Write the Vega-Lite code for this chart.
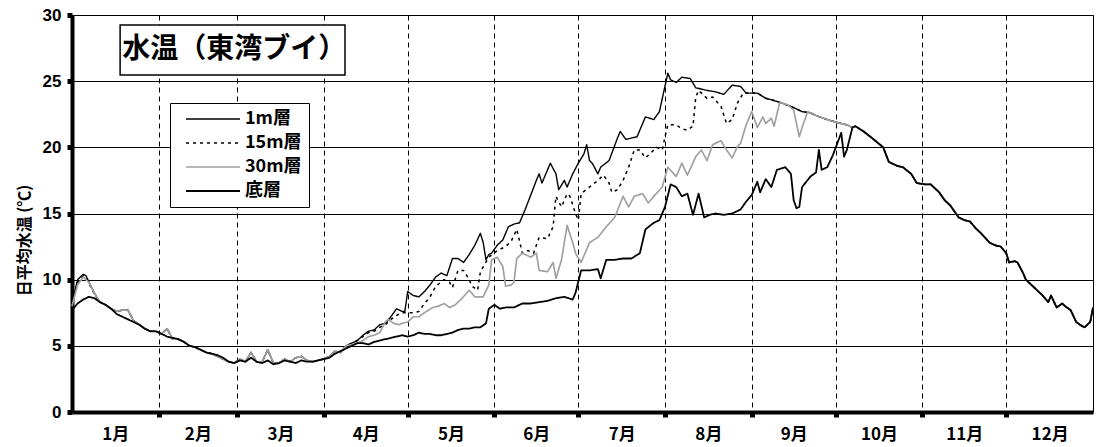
{
"$schema":"https://vega.github.io/schema/vega-lite/v6.json",
"autosize":{"type":"none"},
"padding":{"left":72,"top":15,"right":3,"bottom":35},
"width":1021,"height":397,
"background":"white",
"config":{"view":{"stroke":"black","strokeWidth":1},"font":"Liberation Sans"},
"datasets":{
"w":[
{"s":"1m層","d":0,"v":8.2},{"s":"1m層","d":2,"v":10.0},{"s":"1m層","d":4,"v":10.4},{"s":"1m層","d":5,"v":10.3},{"s":"1m層","d":7,"v":9.4},{"s":"1m層","d":9,"v":8.6},{"s":"1m層","d":10,"v":8.3},{"s":"1m層","d":12,"v":8.1},{"s":"1m層","d":14,"v":7.8},{"s":"1m層","d":16,"v":7.6},{"s":"1m層","d":18,"v":7.7},{"s":"1m層","d":20,"v":7.7},{"s":"1m層","d":22,"v":6.9},{"s":"1m層","d":24,"v":6.6},{"s":"1m層","d":26,"v":6.3},{"s":"1m層","d":28,"v":6.1},{"s":"1m層","d":30,"v":6.1},{"s":"1m層","d":32,"v":5.9},{"s":"1m層","d":34,"v":6.3},{"s":"1m層","d":36,"v":5.5},{"s":"1m層","d":38,"v":5.5},{"s":"1m層","d":40,"v":5.3},{"s":"1m層","d":42,"v":5.0},{"s":"1m層","d":44,"v":4.9},{"s":"1m層","d":46,"v":4.7},{"s":"1m層","d":48,"v":4.5},{"s":"1m層","d":50,"v":4.4},{"s":"1m層","d":52,"v":4.2},{"s":"1m層","d":54,"v":4.0},{"s":"1m層","d":56,"v":3.8},{"s":"1m層","d":58,"v":3.7},{"s":"1m層","d":60,"v":4.0},{"s":"1m層","d":62,"v":3.8},{"s":"1m層","d":64,"v":4.5},{"s":"1m層","d":66,"v":3.8},{"s":"1m層","d":68,"v":3.8},{"s":"1m層","d":70,"v":4.7},{"s":"1m層","d":72,"v":3.7},{"s":"1m層","d":74,"v":3.7},{"s":"1m層","d":76,"v":4.0},{"s":"1m層","d":78,"v":3.8},{"s":"1m層","d":80,"v":4.1},{"s":"1m層","d":82,"v":4.2},{"s":"1m層","d":84,"v":3.9},{"s":"1m層","d":86,"v":3.8},{"s":"1m層","d":88,"v":3.9},{"s":"1m層","d":90,"v":4.0},{"s":"1m層","d":92,"v":4.2},{"s":"1m層","d":94,"v":4.6},{"s":"1m層","d":96,"v":4.5},{"s":"1m層","d":98,"v":5.0},{"s":"1m層","d":100,"v":5.2},{"s":"1m層","d":102,"v":5.4},{"s":"1m層","d":104,"v":5.8},{"s":"1m層","d":106,"v":6.1},{"s":"1m層","d":108,"v":6.2},{"s":"1m層","d":110,"v":6.6},{"s":"1m層","d":112,"v":6.7},{"s":"1m層","d":114,"v":7.2},{"s":"1m層","d":116,"v":7.8},{"s":"1m層","d":118,"v":7.6},{"s":"1m層","d":119,"v":7.6},{"s":"1m層","d":120,"v":9.1},{"s":"1m層","d":122,"v":8.8},{"s":"1m層","d":124,"v":8.7},{"s":"1m層","d":126,"v":9.1},{"s":"1m層","d":128,"v":9.6},{"s":"1m層","d":130,"v":10.2},{"s":"1m層","d":132,"v":10.5},{"s":"1m層","d":134,"v":10.3},{"s":"1m層","d":136,"v":11.6},{"s":"1m層","d":138,"v":11.6},{"s":"1m層","d":140,"v":11.3},{"s":"1m層","d":142,"v":11.9},{"s":"1m層","d":144,"v":12.6},{"s":"1m層","d":146,"v":13.5},{"s":"1m層","d":147,"v":12.8},{"s":"1m層","d":148,"v":11.5},{"s":"1m層","d":149,"v":11.9},{"s":"1m層","d":150,"v":12.0},{"s":"1m層","d":152,"v":12.6},{"s":"1m層","d":154,"v":13.0},{"s":"1m層","d":156,"v":14.0},{"s":"1m層","d":158,"v":14.2},{"s":"1m層","d":160,"v":14.3},{"s":"1m層","d":162,"v":15.3},{"s":"1m層","d":164,"v":16.4},{"s":"1m層","d":166,"v":17.5},{"s":"1m層","d":167,"v":18.0},{"s":"1m層","d":168,"v":17.3},{"s":"1m層","d":170,"v":18.3},{"s":"1m層","d":171,"v":18.8},{"s":"1m層","d":173,"v":18.0},{"s":"1m層","d":174,"v":16.8},{"s":"1m層","d":176,"v":17.5},{"s":"1m層","d":177,"v":17.0},{"s":"1m層","d":179,"v":18.0},{"s":"1m層","d":181,"v":18.8},{"s":"1m層","d":183,"v":19.5},{"s":"1m層","d":184,"v":20.2},{"s":"1m層","d":185,"v":19.0},{"s":"1m層","d":186,"v":18.8},{"s":"1m層","d":188,"v":18.0},{"s":"1m層","d":189,"v":18.5},{"s":"1m層","d":192,"v":19.0},{"s":"1m層","d":195,"v":20.7},{"s":"1m層","d":196,"v":21.2},{"s":"1m層","d":198,"v":20.6},{"s":"1m層","d":202,"v":20.8},{"s":"1m層","d":205,"v":22.3},{"s":"1m層","d":208,"v":22.1},{"s":"1m層","d":210,"v":22.7},{"s":"1m層","d":213,"v":25.6},{"s":"1m層","d":214,"v":25.1},{"s":"1m層","d":216,"v":24.9},{"s":"1m層","d":218,"v":25.3},{"s":"1m層","d":221,"v":25.2},{"s":"1m層","d":223,"v":24.5},{"s":"1m層","d":227,"v":24.3},{"s":"1m層","d":230,"v":24.2},{"s":"1m層","d":233,"v":24.0},{"s":"1m層","d":236,"v":24.7},{"s":"1m層","d":239,"v":24.6},{"s":"1m層","d":241,"v":24.1},{"s":"1m層","d":245,"v":24.1},{"s":"1m層","d":248,"v":23.7},{"s":"1m層","d":250,"v":23.6},{"s":"1m層","d":253,"v":23.4},{"s":"1m層","d":257,"v":23.1},{"s":"1m層","d":261,"v":22.7},{"s":"1m層","d":264,"v":22.6},{"s":"1m層","d":266,"v":22.4},{"s":"1m層","d":270,"v":22.1},{"s":"1m層","d":273,"v":21.9},{"s":"1m層","d":277,"v":21.7},{"s":"1m層","d":279,"v":21.5},{"s":"1m層","d":280,"v":21.6},{"s":"1m層","d":283,"v":21.2},{"s":"1m層","d":286,"v":20.7},{"s":"1m層","d":290,"v":20.0},{"s":"1m層","d":292,"v":18.9},{"s":"1m層","d":295,"v":18.6},{"s":"1m層","d":297,"v":18.5},{"s":"1m層","d":300,"v":18.0},{"s":"1m層","d":302,"v":17.3},{"s":"1m層","d":305,"v":17.2},{"s":"1m層","d":307,"v":17.2},{"s":"1m層","d":310,"v":16.6},{"s":"1m層","d":312,"v":16.0},{"s":"1m層","d":314,"v":15.6},{"s":"1m層","d":317,"v":14.7},{"s":"1m層","d":319,"v":14.5},{"s":"1m層","d":321,"v":14.4},{"s":"1m層","d":323,"v":13.9},{"s":"1m層","d":325,"v":13.5},{"s":"1m層","d":328,"v":12.8},{"s":"1m層","d":330,"v":12.6},{"s":"1m層","d":332,"v":12.5},{"s":"1m層","d":334,"v":12.0},{"s":"1m層","d":335,"v":11.3},{"s":"1m層","d":337,"v":11.4},{"s":"1m層","d":338,"v":11.3},{"s":"1m層","d":340,"v":10.5},{"s":"1m層","d":341,"v":10.0},{"s":"1m層","d":343,"v":9.6},{"s":"1m層","d":345,"v":9.2},{"s":"1m層","d":347,"v":8.8},{"s":"1m層","d":349,"v":8.3},{"s":"1m層","d":350,"v":8.8},{"s":"1m層","d":352,"v":7.9},{"s":"1m層","d":354,"v":8.2},{"s":"1m層","d":355,"v":8.0},{"s":"1m層","d":357,"v":7.7},{"s":"1m層","d":359,"v":6.8},{"s":"1m層","d":361,"v":6.5},{"s":"1m層","d":362,"v":6.4},{"s":"1m層","d":364,"v":6.8},{"s":"1m層","d":365,"v":7.9},
{"s":"15m層","d":0,"v":8.2},{"s":"15m層","d":2,"v":9.8},{"s":"15m層","d":4,"v":10.3},{"s":"15m層","d":5,"v":10.2},{"s":"15m層","d":7,"v":9.3},{"s":"15m層","d":9,"v":8.6},{"s":"15m層","d":10,"v":8.3},{"s":"15m層","d":12,"v":8.1},{"s":"15m層","d":14,"v":7.8},{"s":"15m層","d":16,"v":7.6},{"s":"15m層","d":18,"v":7.7},{"s":"15m層","d":20,"v":7.7},{"s":"15m層","d":22,"v":6.9},{"s":"15m層","d":24,"v":6.6},{"s":"15m層","d":26,"v":6.3},{"s":"15m層","d":28,"v":6.1},{"s":"15m層","d":30,"v":6.1},{"s":"15m層","d":32,"v":5.9},{"s":"15m層","d":34,"v":6.3},{"s":"15m層","d":36,"v":5.5},{"s":"15m層","d":38,"v":5.5},{"s":"15m層","d":40,"v":5.3},{"s":"15m層","d":42,"v":5.0},{"s":"15m層","d":44,"v":4.9},{"s":"15m層","d":46,"v":4.7},{"s":"15m層","d":48,"v":4.5},{"s":"15m層","d":50,"v":4.4},{"s":"15m層","d":52,"v":4.2},{"s":"15m層","d":54,"v":4.0},{"s":"15m層","d":56,"v":3.8},{"s":"15m層","d":58,"v":3.7},{"s":"15m層","d":60,"v":4.0},{"s":"15m層","d":62,"v":3.8},{"s":"15m層","d":64,"v":4.5},{"s":"15m層","d":66,"v":3.8},{"s":"15m層","d":68,"v":3.8},{"s":"15m層","d":70,"v":4.7},{"s":"15m層","d":72,"v":3.7},{"s":"15m層","d":74,"v":3.7},{"s":"15m層","d":76,"v":4.0},{"s":"15m層","d":78,"v":3.8},{"s":"15m層","d":80,"v":4.1},{"s":"15m層","d":82,"v":4.2},{"s":"15m層","d":84,"v":3.9},{"s":"15m層","d":86,"v":3.8},{"s":"15m層","d":88,"v":3.9},{"s":"15m層","d":90,"v":4.0},{"s":"15m層","d":92,"v":4.2},{"s":"15m層","d":94,"v":4.6},{"s":"15m層","d":96,"v":4.5},{"s":"15m層","d":98,"v":5.0},{"s":"15m層","d":100,"v":5.2},{"s":"15m層","d":102,"v":5.4},{"s":"15m層","d":104,"v":5.7},{"s":"15m層","d":106,"v":6.0},{"s":"15m層","d":108,"v":6.1},{"s":"15m層","d":110,"v":6.4},{"s":"15m層","d":112,"v":6.6},{"s":"15m層","d":114,"v":7.0},{"s":"15m層","d":116,"v":7.3},{"s":"15m層","d":118,"v":7.5},{"s":"15m層","d":120,"v":7.5},{"s":"15m層","d":122,"v":7.5},{"s":"15m層","d":124,"v":7.6},{"s":"15m層","d":126,"v":8.2},{"s":"15m層","d":128,"v":8.7},{"s":"15m層","d":130,"v":9.5},{"s":"15m層","d":133,"v":10.0},{"s":"15m層","d":135,"v":9.8},{"s":"15m層","d":136,"v":9.4},{"s":"15m層","d":138,"v":10.7},{"s":"15m層","d":140,"v":10.7},{"s":"15m層","d":142,"v":10.0},{"s":"15m層","d":143,"v":9.5},{"s":"15m層","d":145,"v":9.2},{"s":"15m層","d":146,"v":10.6},{"s":"15m層","d":149,"v":11.7},{"s":"15m層","d":152,"v":12.2},{"s":"15m層","d":155,"v":12.5},{"s":"15m層","d":157,"v":12.9},{"s":"15m層","d":159,"v":13.8},{"s":"15m層","d":161,"v":12.0},{"s":"15m層","d":163,"v":12.2},{"s":"15m層","d":165,"v":12.0},{"s":"15m層","d":167,"v":13.2},{"s":"15m層","d":170,"v":13.1},{"s":"15m層","d":172,"v":14.0},{"s":"15m層","d":173,"v":16.3},{"s":"15m層","d":175,"v":15.5},{"s":"15m層","d":177,"v":16.5},{"s":"15m層","d":178,"v":16.3},{"s":"15m層","d":180,"v":15.0},{"s":"15m層","d":181,"v":14.5},{"s":"15m層","d":182,"v":16.5},{"s":"15m層","d":185,"v":17.0},{"s":"15m層","d":188,"v":17.5},{"s":"15m層","d":190,"v":17.9},{"s":"15m層","d":192,"v":17.3},{"s":"15m層","d":193,"v":16.6},{"s":"15m層","d":195,"v":16.8},{"s":"15m層","d":197,"v":17.5},{"s":"15m層","d":199,"v":18.5},{"s":"15m層","d":201,"v":19.8},{"s":"15m層","d":203,"v":19.8},{"s":"15m層","d":205,"v":19.2},{"s":"15m層","d":207,"v":19.6},{"s":"15m層","d":209,"v":20.0},{"s":"15m層","d":211,"v":19.8},{"s":"15m層","d":212,"v":20.8},{"s":"15m層","d":213,"v":21.7},{"s":"15m層","d":216,"v":21.7},{"s":"15m層","d":218,"v":21.4},{"s":"15m層","d":220,"v":21.3},{"s":"15m層","d":222,"v":21.6},{"s":"15m層","d":223,"v":23.8},{"s":"15m層","d":224,"v":24.3},{"s":"15m層","d":227,"v":23.7},{"s":"15m層","d":229,"v":23.8},{"s":"15m層","d":232,"v":23.1},{"s":"15m層","d":234,"v":21.8},{"s":"15m層","d":236,"v":22.1},{"s":"15m層","d":238,"v":23.4},{"s":"15m層","d":240,"v":24.1},{"s":"15m層","d":241,"v":24.1},{"s":"15m層","d":245,"v":24.1},{"s":"15m層","d":248,"v":23.7},{"s":"15m層","d":250,"v":23.6},{"s":"15m層","d":253,"v":23.4},{"s":"15m層","d":257,"v":23.1},{"s":"15m層","d":261,"v":22.7},{"s":"15m層","d":264,"v":22.6},{"s":"15m層","d":266,"v":22.4},{"s":"15m層","d":270,"v":22.1},{"s":"15m層","d":273,"v":21.9},{"s":"15m層","d":277,"v":21.7},{"s":"15m層","d":279,"v":21.5},{"s":"15m層","d":280,"v":21.6},{"s":"15m層","d":283,"v":21.2},{"s":"15m層","d":286,"v":20.7},{"s":"15m層","d":290,"v":20.0},{"s":"15m層","d":292,"v":18.9},{"s":"15m層","d":295,"v":18.6},{"s":"15m層","d":297,"v":18.5},{"s":"15m層","d":300,"v":18.0},{"s":"15m層","d":302,"v":17.3},{"s":"15m層","d":305,"v":17.2},{"s":"15m層","d":307,"v":17.2},{"s":"15m層","d":310,"v":16.6},{"s":"15m層","d":312,"v":16.0},{"s":"15m層","d":314,"v":15.6},{"s":"15m層","d":317,"v":14.7},{"s":"15m層","d":319,"v":14.5},{"s":"15m層","d":321,"v":14.4},{"s":"15m層","d":323,"v":13.9},{"s":"15m層","d":325,"v":13.5},{"s":"15m層","d":328,"v":12.8},{"s":"15m層","d":330,"v":12.6},{"s":"15m層","d":332,"v":12.5},{"s":"15m層","d":334,"v":12.0},{"s":"15m層","d":335,"v":11.3},{"s":"15m層","d":337,"v":11.4},{"s":"15m層","d":338,"v":11.3},{"s":"15m層","d":340,"v":10.5},{"s":"15m層","d":341,"v":10.0},{"s":"15m層","d":343,"v":9.6},{"s":"15m層","d":345,"v":9.2},{"s":"15m層","d":347,"v":8.8},{"s":"15m層","d":349,"v":8.3},{"s":"15m層","d":350,"v":8.8},{"s":"15m層","d":352,"v":7.9},{"s":"15m層","d":354,"v":8.2},{"s":"15m層","d":355,"v":8.0},{"s":"15m層","d":357,"v":7.7},{"s":"15m層","d":359,"v":6.8},{"s":"15m層","d":361,"v":6.5},{"s":"15m層","d":362,"v":6.4},{"s":"15m層","d":364,"v":6.8},{"s":"15m層","d":365,"v":7.9},
{"s":"30m層","d":0,"v":8.0},{"s":"30m層","d":2,"v":9.6},{"s":"30m層","d":4,"v":10.2},{"s":"30m層","d":6,"v":9.8},{"s":"30m層","d":8,"v":9.0},{"s":"30m層","d":10,"v":8.3},{"s":"30m層","d":12,"v":8.1},{"s":"30m層","d":14,"v":7.8},{"s":"30m層","d":16,"v":7.6},{"s":"30m層","d":18,"v":7.7},{"s":"30m層","d":20,"v":7.7},{"s":"30m層","d":22,"v":6.9},{"s":"30m層","d":24,"v":6.6},{"s":"30m層","d":26,"v":6.3},{"s":"30m層","d":28,"v":6.1},{"s":"30m層","d":30,"v":6.1},{"s":"30m層","d":32,"v":5.9},{"s":"30m層","d":34,"v":6.3},{"s":"30m層","d":36,"v":5.5},{"s":"30m層","d":38,"v":5.5},{"s":"30m層","d":40,"v":5.3},{"s":"30m層","d":42,"v":5.0},{"s":"30m層","d":44,"v":4.9},{"s":"30m層","d":46,"v":4.7},{"s":"30m層","d":48,"v":4.5},{"s":"30m層","d":50,"v":4.4},{"s":"30m層","d":52,"v":4.2},{"s":"30m層","d":54,"v":4.0},{"s":"30m層","d":56,"v":3.8},{"s":"30m層","d":58,"v":3.7},{"s":"30m層","d":60,"v":4.0},{"s":"30m層","d":62,"v":3.8},{"s":"30m層","d":64,"v":4.5},{"s":"30m層","d":66,"v":3.8},{"s":"30m層","d":68,"v":3.8},{"s":"30m層","d":70,"v":4.7},{"s":"30m層","d":72,"v":3.7},{"s":"30m層","d":74,"v":3.7},{"s":"30m層","d":76,"v":4.0},{"s":"30m層","d":78,"v":3.8},{"s":"30m層","d":80,"v":4.1},{"s":"30m層","d":82,"v":4.2},{"s":"30m層","d":84,"v":3.9},{"s":"30m層","d":86,"v":3.8},{"s":"30m層","d":88,"v":3.9},{"s":"30m層","d":90,"v":4.0},{"s":"30m層","d":92,"v":4.2},{"s":"30m層","d":94,"v":4.6},{"s":"30m層","d":96,"v":4.5},{"s":"30m層","d":98,"v":5.0},{"s":"30m層","d":100,"v":5.1},{"s":"30m層","d":102,"v":5.2},{"s":"30m層","d":104,"v":5.4},{"s":"30m層","d":106,"v":5.7},{"s":"30m層","d":108,"v":5.8},{"s":"30m層","d":110,"v":6.0},{"s":"30m層","d":112,"v":6.8},{"s":"30m層","d":113,"v":7.0},{"s":"30m層","d":115,"v":6.7},{"s":"30m層","d":117,"v":6.6},{"s":"30m層","d":118,"v":6.7},{"s":"30m層","d":120,"v":6.8},{"s":"30m層","d":122,"v":7.2},{"s":"30m層","d":124,"v":7.2},{"s":"30m層","d":126,"v":7.5},{"s":"30m層","d":129,"v":7.9},{"s":"30m層","d":131,"v":8.0},{"s":"30m層","d":133,"v":8.2},{"s":"30m層","d":135,"v":7.9},{"s":"30m層","d":137,"v":8.1},{"s":"30m層","d":139,"v":8.5},{"s":"30m層","d":142,"v":9.2},{"s":"30m層","d":144,"v":8.7},{"s":"30m層","d":147,"v":8.7},{"s":"30m層","d":149,"v":9.6},{"s":"30m層","d":150,"v":11.5},{"s":"30m層","d":152,"v":11.7},{"s":"30m層","d":154,"v":11.0},{"s":"30m層","d":155,"v":9.5},{"s":"30m層","d":157,"v":9.6},{"s":"30m層","d":158,"v":9.8},{"s":"30m層","d":159,"v":11.6},{"s":"30m層","d":161,"v":12.0},{"s":"30m層","d":164,"v":11.7},{"s":"30m層","d":166,"v":12.0},{"s":"30m層","d":167,"v":10.7},{"s":"30m層","d":170,"v":10.6},{"s":"30m層","d":172,"v":11.3},{"s":"30m層","d":173,"v":10.1},{"s":"30m層","d":175,"v":11.5},{"s":"30m層","d":177,"v":14.1},{"s":"30m層","d":179,"v":12.8},{"s":"30m層","d":180,"v":12.0},{"s":"30m層","d":182,"v":11.3},{"s":"30m層","d":185,"v":12.8},{"s":"30m層","d":188,"v":13.2},{"s":"30m層","d":191,"v":14.0},{"s":"30m層","d":194,"v":14.7},{"s":"30m層","d":197,"v":16.3},{"s":"30m層","d":199,"v":15.5},{"s":"30m層","d":201,"v":16.3},{"s":"30m層","d":204,"v":16.5},{"s":"30m層","d":206,"v":15.8},{"s":"30m層","d":208,"v":16.3},{"s":"30m層","d":211,"v":17.0},{"s":"30m層","d":213,"v":18.5},{"s":"30m層","d":216,"v":17.8},{"s":"30m層","d":218,"v":18.8},{"s":"30m層","d":220,"v":17.9},{"s":"30m層","d":223,"v":19.3},{"s":"30m層","d":225,"v":19.8},{"s":"30m層","d":227,"v":19.0},{"s":"30m層","d":229,"v":20.2},{"s":"30m層","d":232,"v":20.5},{"s":"30m層","d":234,"v":19.8},{"s":"30m層","d":236,"v":19.2},{"s":"30m層","d":238,"v":20.1},{"s":"30m層","d":239,"v":20.3},{"s":"30m層","d":241,"v":21.7},{"s":"30m層","d":243,"v":22.7},{"s":"30m層","d":245,"v":21.5},{"s":"30m層","d":247,"v":22.3},{"s":"30m層","d":248,"v":21.8},{"s":"30m層","d":250,"v":22.2},{"s":"30m層","d":251,"v":21.6},{"s":"30m層","d":253,"v":23.4},{"s":"30m層","d":256,"v":23.2},{"s":"30m層","d":258,"v":22.8},{"s":"30m層","d":260,"v":20.8},{"s":"30m層","d":261,"v":21.5},{"s":"30m層","d":263,"v":22.7},{"s":"30m層","d":266,"v":22.4},{"s":"30m層","d":270,"v":22.1},{"s":"30m層","d":273,"v":21.9},{"s":"30m層","d":277,"v":21.7},{"s":"30m層","d":279,"v":21.5},{"s":"30m層","d":280,"v":21.6},{"s":"30m層","d":283,"v":21.2},{"s":"30m層","d":286,"v":20.7},{"s":"30m層","d":290,"v":20.0},{"s":"30m層","d":292,"v":18.9},{"s":"30m層","d":295,"v":18.6},{"s":"30m層","d":297,"v":18.5},{"s":"30m層","d":300,"v":18.0},{"s":"30m層","d":302,"v":17.3},{"s":"30m層","d":305,"v":17.2},{"s":"30m層","d":307,"v":17.2},{"s":"30m層","d":310,"v":16.6},{"s":"30m層","d":312,"v":16.0},{"s":"30m層","d":314,"v":15.6},{"s":"30m層","d":317,"v":14.7},{"s":"30m層","d":319,"v":14.5},{"s":"30m層","d":321,"v":14.4},{"s":"30m層","d":323,"v":13.9},{"s":"30m層","d":325,"v":13.5},{"s":"30m層","d":328,"v":12.8},{"s":"30m層","d":330,"v":12.6},{"s":"30m層","d":332,"v":12.5},{"s":"30m層","d":334,"v":12.0},{"s":"30m層","d":335,"v":11.3},{"s":"30m層","d":337,"v":11.4},{"s":"30m層","d":338,"v":11.3},{"s":"30m層","d":340,"v":10.5},{"s":"30m層","d":341,"v":10.0},{"s":"30m層","d":343,"v":9.6},{"s":"30m層","d":345,"v":9.2},{"s":"30m層","d":347,"v":8.8},{"s":"30m層","d":349,"v":8.3},{"s":"30m層","d":350,"v":8.8},{"s":"30m層","d":352,"v":7.9},{"s":"30m層","d":354,"v":8.2},{"s":"30m層","d":355,"v":8.0},{"s":"30m層","d":357,"v":7.7},{"s":"30m層","d":359,"v":6.8},{"s":"30m層","d":361,"v":6.5},{"s":"30m層","d":362,"v":6.4},{"s":"30m層","d":364,"v":6.8},{"s":"30m層","d":365,"v":7.9},
{"s":"底層","d":0,"v":7.7},{"s":"底層","d":2,"v":8.2},{"s":"底層","d":4,"v":8.5},{"s":"底層","d":6,"v":8.7},{"s":"底層","d":8,"v":8.6},{"s":"底層","d":10,"v":8.3},{"s":"底層","d":12,"v":8.1},{"s":"底層","d":14,"v":7.8},{"s":"底層","d":16,"v":7.4},{"s":"底層","d":18,"v":7.2},{"s":"底層","d":20,"v":7.0},{"s":"底層","d":22,"v":6.8},{"s":"底層","d":24,"v":6.6},{"s":"底層","d":26,"v":6.3},{"s":"底層","d":28,"v":6.1},{"s":"底層","d":30,"v":6.1},{"s":"底層","d":32,"v":5.9},{"s":"底層","d":34,"v":5.7},{"s":"底層","d":36,"v":5.6},{"s":"底層","d":38,"v":5.5},{"s":"底層","d":40,"v":5.3},{"s":"底層","d":42,"v":5.0},{"s":"底層","d":44,"v":4.9},{"s":"底層","d":46,"v":4.7},{"s":"底層","d":48,"v":4.5},{"s":"底層","d":50,"v":4.4},{"s":"底層","d":52,"v":4.3},{"s":"底層","d":54,"v":4.1},{"s":"底層","d":56,"v":3.8},{"s":"底層","d":58,"v":3.7},{"s":"底層","d":60,"v":3.9},{"s":"底層","d":62,"v":3.8},{"s":"底層","d":64,"v":4.1},{"s":"底層","d":66,"v":3.8},{"s":"底層","d":68,"v":3.7},{"s":"底層","d":70,"v":3.9},{"s":"底層","d":72,"v":3.6},{"s":"底層","d":74,"v":3.7},{"s":"底層","d":76,"v":3.9},{"s":"底層","d":78,"v":3.8},{"s":"底層","d":80,"v":3.7},{"s":"底層","d":82,"v":3.9},{"s":"底層","d":84,"v":3.8},{"s":"底層","d":86,"v":3.8},{"s":"底層","d":88,"v":3.9},{"s":"底層","d":90,"v":4.0},{"s":"底層","d":92,"v":4.1},{"s":"底層","d":94,"v":4.4},{"s":"底層","d":96,"v":4.6},{"s":"底層","d":98,"v":4.8},{"s":"底層","d":100,"v":5.0},{"s":"底層","d":102,"v":5.2},{"s":"底層","d":104,"v":5.2},{"s":"底層","d":106,"v":5.1},{"s":"底層","d":108,"v":5.3},{"s":"底層","d":110,"v":5.4},{"s":"底層","d":112,"v":5.5},{"s":"底層","d":114,"v":5.6},{"s":"底層","d":116,"v":5.7},{"s":"底層","d":118,"v":5.8},{"s":"底層","d":120,"v":5.7},{"s":"底層","d":122,"v":5.8},{"s":"底層","d":124,"v":6.0},{"s":"底層","d":126,"v":5.9},{"s":"底層","d":128,"v":5.9},{"s":"底層","d":130,"v":5.8},{"s":"底層","d":132,"v":5.8},{"s":"底層","d":134,"v":5.9},{"s":"底層","d":136,"v":6.0},{"s":"底層","d":138,"v":6.2},{"s":"底層","d":140,"v":6.3},{"s":"底層","d":142,"v":6.3},{"s":"底層","d":144,"v":6.4},{"s":"底層","d":146,"v":6.4},{"s":"底層","d":148,"v":6.7},{"s":"底層","d":149,"v":7.8},{"s":"底層","d":151,"v":8.1},{"s":"底層","d":153,"v":7.8},{"s":"底層","d":155,"v":7.9},{"s":"底層","d":158,"v":7.9},{"s":"底層","d":161,"v":8.2},{"s":"底層","d":164,"v":8.2},{"s":"底層","d":167,"v":8.3},{"s":"底層","d":170,"v":8.4},{"s":"底層","d":173,"v":8.6},{"s":"底層","d":176,"v":8.7},{"s":"底層","d":179,"v":8.5},{"s":"底層","d":180,"v":9.0},{"s":"底層","d":182,"v":10.7},{"s":"底層","d":185,"v":10.7},{"s":"底層","d":188,"v":10.8},{"s":"底層","d":189,"v":10.1},{"s":"底層","d":191,"v":11.5},{"s":"底層","d":194,"v":11.5},{"s":"底層","d":197,"v":11.6},{"s":"底層","d":200,"v":11.6},{"s":"底層","d":203,"v":12.0},{"s":"底層","d":205,"v":13.8},{"s":"底層","d":208,"v":14.3},{"s":"底層","d":210,"v":14.5},{"s":"底層","d":212,"v":15.5},{"s":"底層","d":214,"v":17.2},{"s":"底層","d":216,"v":17.0},{"s":"底層","d":218,"v":16.3},{"s":"底層","d":220,"v":16.5},{"s":"底層","d":222,"v":14.9},{"s":"底層","d":224,"v":16.5},{"s":"底層","d":226,"v":14.7},{"s":"底層","d":228,"v":14.9},{"s":"底層","d":230,"v":15.0},{"s":"底層","d":233,"v":14.9},{"s":"底層","d":236,"v":15.0},{"s":"底層","d":239,"v":15.3},{"s":"底層","d":241,"v":15.9},{"s":"底層","d":243,"v":16.4},{"s":"底層","d":245,"v":17.4},{"s":"底層","d":246,"v":16.6},{"s":"底層","d":248,"v":17.6},{"s":"底層","d":250,"v":17.0},{"s":"底層","d":252,"v":18.3},{"s":"底層","d":255,"v":18.5},{"s":"底層","d":257,"v":18.0},{"s":"底層","d":258,"v":16.0},{"s":"底層","d":259,"v":15.4},{"s":"底層","d":260,"v":15.5},{"s":"底層","d":261,"v":17.0},{"s":"底層","d":264,"v":17.8},{"s":"底層","d":266,"v":18.1},{"s":"底層","d":267,"v":19.8},{"s":"底層","d":268,"v":18.3},{"s":"底層","d":270,"v":18.5},{"s":"底層","d":272,"v":19.4},{"s":"底層","d":275,"v":21.1},{"s":"底層","d":276,"v":19.3},{"s":"底層","d":277,"v":19.8},{"s":"底層","d":279,"v":21.5},{"s":"底層","d":280,"v":21.6},{"s":"底層","d":283,"v":21.2},{"s":"底層","d":286,"v":20.7},{"s":"底層","d":290,"v":20.0},{"s":"底層","d":292,"v":18.9},{"s":"底層","d":295,"v":18.6},{"s":"底層","d":297,"v":18.5},{"s":"底層","d":300,"v":18.0},{"s":"底層","d":302,"v":17.3},{"s":"底層","d":305,"v":17.2},{"s":"底層","d":307,"v":17.2},{"s":"底層","d":310,"v":16.6},{"s":"底層","d":312,"v":16.0},{"s":"底層","d":314,"v":15.6},{"s":"底層","d":317,"v":14.7},{"s":"底層","d":319,"v":14.5},{"s":"底層","d":321,"v":14.4},{"s":"底層","d":323,"v":13.9},{"s":"底層","d":325,"v":13.5},{"s":"底層","d":328,"v":12.8},{"s":"底層","d":330,"v":12.6},{"s":"底層","d":332,"v":12.5},{"s":"底層","d":334,"v":12.0},{"s":"底層","d":335,"v":11.3},{"s":"底層","d":337,"v":11.4},{"s":"底層","d":338,"v":11.3},{"s":"底層","d":340,"v":10.5},{"s":"底層","d":341,"v":10.0},{"s":"底層","d":343,"v":9.6},{"s":"底層","d":345,"v":9.2},{"s":"底層","d":347,"v":8.8},{"s":"底層","d":349,"v":8.3},{"s":"底層","d":350,"v":8.8},{"s":"底層","d":352,"v":7.9},{"s":"底層","d":354,"v":8.2},{"s":"底層","d":355,"v":8.0},{"s":"底層","d":357,"v":7.7},{"s":"底層","d":359,"v":6.8},{"s":"底層","d":361,"v":6.5},{"s":"底層","d":362,"v":6.4},{"s":"底層","d":364,"v":6.8},{"s":"底層","d":365,"v":7.9}
],
"box":[{"label":"水温（東湾ブイ）"}]
},
"layer":[
{"data":{"name":"w"},"transform":[{"filter":"datum.s == '1m層'"}],"mark":{"type":"line","strokeJoin":"round"},
"encoding":{
"x":{"field":"d","type":"quantitative","scale":{"domain":[0,365],"nice":false,"zero":false},
"axis":{"title":null,"orient":"bottom",
"values":[15.5,31,45,59,74.5,90,105,120,135.5,151,166,181,196.5,212,227.5,243,258,273,288.5,304,319,334,349.5],
"labelExpr":"indexof([31,59,90,120,151,181,212,243,273,304,334], datum.value) >= 0 ? '' : (floor(datum.value/30.42)+1) + '月'",
"labelOverlap":false,"labelFlush":false,"labelFont":"Noto Sans CJK JP","labelFontWeight":"bold","labelFontSize":17,"labelColor":"black","labelPadding":9,
"domainColor":"black","domainWidth":4,
"tickColor":"black","tickSize":5,"tickWidth":5,
"tickOpacity":{"condition":{"test":"indexof([31,59,90,120,151,181,212,243,273,304,334], datum.value) >= 0","value":1},"value":0},
"grid":true,"gridColor":"black","gridWidth":1,"gridDash":[5,4],
"gridOpacity":{"condition":{"test":"indexof([31,59,90,120,151,181,212,243,273,304,334], datum.value) >= 0","value":1},"value":0}}},
"y":{"field":"v","type":"quantitative","scale":{"domain":[0,30],"nice":false},
"axis":{"title":"日平均水温 (℃)","titleFont":"Noto Sans CJK JP","titleFontSize":16,"titleFontWeight":"bold","titleColor":"black","titlePadding":10,"titleY":225,
"values":[0,5,10,15,20,25,30],"labelFont":"Liberation Sans","labelFontWeight":"bold","labelFontSize":17,"labelColor":"black","labelPadding":6,
"domainColor":"black","domainWidth":4,"tickColor":"black","tickSize":5,"tickWidth":5,
"grid":true,"gridColor":"black","gridWidth":1}},
"color":{"field":"s","type":"nominal","scale":{"domain":["1m層","15m層","30m層","底層"],"range":["#000000","#000000","#a0a0a0","#000000"]},
"legend":{"title":null,"orient":"none","legendX":98,"legendY":88,"strokeColor":"black","fillColor":"white","padding":7,"symbolType":"M0,0H18","symbolSize":36,"labelFont":"Noto Sans CJK JP","labelFontWeight":"bold","labelFontSize":18,"labelColor":"black","labelAlign":"left","rowPadding":6,"labelOffset":50}},
"strokeDash":{"field":"s","type":"nominal","scale":{"domain":["1m層","15m層","30m層","底層"],"range":[[1,0],[3,4],[1,0],[1,0]]}},
"strokeWidth":{"field":"s","type":"nominal","scale":{"domain":["1m層","15m層","30m層","底層"],"range":[1.4,1.8,3,4.5]}}}},
{"data":{"name":"w"},"transform":[{"filter":"datum.s == '15m層'"}],"mark":{"type":"line","strokeJoin":"round"},
"encoding":{"x":{"field":"d","type":"quantitative"},"y":{"field":"v","type":"quantitative"},"color":{"field":"s","type":"nominal"},"strokeDash":{"field":"s","type":"nominal"},"strokeWidth":{"field":"s","type":"nominal"}}},
{"data":{"name":"w"},"transform":[{"filter":"datum.s == '30m層'"}],"mark":{"type":"line","strokeJoin":"round"},
"encoding":{"x":{"field":"d","type":"quantitative"},"y":{"field":"v","type":"quantitative"},"color":{"field":"s","type":"nominal"},"strokeDash":{"field":"s","type":"nominal"},"strokeWidth":{"field":"s","type":"nominal"}}},
{"data":{"name":"w"},"transform":[{"filter":"datum.s == '底層'"}],"mark":{"type":"line","strokeJoin":"round"},
"encoding":{"x":{"field":"d","type":"quantitative"},"y":{"field":"v","type":"quantitative"},"color":{"field":"s","type":"nominal"},"strokeDash":{"field":"s","type":"nominal"},"strokeWidth":{"field":"s","type":"nominal"}}},
{"data":{"name":"box"},"mark":{"type":"rect","fill":"white","stroke":"black","strokeWidth":1.5},
"encoding":{"x":{"datum":17.2,"type":"quantitative"},"x2":{"datum":97.6},"y":{"datum":29.25,"type":"quantitative"},"y2":{"datum":25.47}}},
{"data":{"name":"box"},"mark":{"type":"text","align":"left","baseline":"middle","font":"Noto Sans CJK JP","fontSize":28,"fontWeight":"bold","color":"black"},
"encoding":{"x":{"datum":18.0,"type":"quantitative"},"y":{"datum":27.35,"type":"quantitative"},"text":{"field":"label","type":"nominal"}}}
]
}
